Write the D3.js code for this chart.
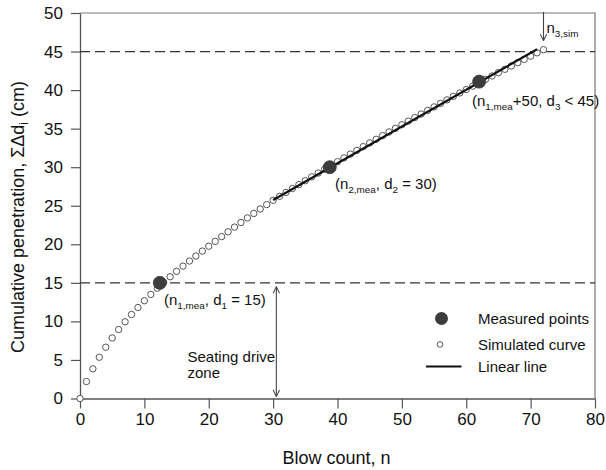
<!DOCTYPE html>
<html>
<head>
<meta charset="utf-8">
<script src="https://cdn.jsdelivr.net/npm/d3@7"></script>
<style>
  html, body { margin: 0; padding: 0; background: #fff; }
  svg { display: block; font-family: Arial, "Liberation Sans", sans-serif; }
</style>
</head>
<body>
<svg id="chart" width="606" height="470"></svg>
<script>
// Simulated penetration curve: one value per blow, starting at blow 0
const simulatedPen = [
  0, 2.2, 3.85, 5.35, 6.65, 7.85, 8.95, 9.95, 10.9, 11.8,
  12.68, 13.5, 14.3, 15.06, 15.79, 16.49, 17.17, 17.83, 18.48, 19.12,
  19.75, 20.38, 21.0, 21.62, 22.23, 22.83, 23.42, 24.0, 24.58, 25.15,
  25.71, 26.22, 26.73, 27.24, 27.74, 28.25, 28.75, 29.24, 29.74, 30.23,
  30.72, 31.21, 31.70, 32.18, 32.67, 33.15, 33.62, 34.10, 34.57, 35.04,
  35.51, 35.98, 36.44, 36.90, 37.36, 37.82, 38.27, 38.73, 39.18, 39.63,
  40.07, 40.51, 40.96, 41.40, 41.83, 42.27, 42.70, 43.13, 43.56, 43.98,
  44.40, 44.83, 45.24
];

// Measured points
const measuredN = [12.4, 38.8, 62.0];
const measuredPen = [15, 30, 41.1];

// Linear line through the 2nd and 3rd measured points
const linearN = [30, 71];
const linearPen = [25.75, 45.3];

// Reference depth levels (dashed)
const refLevels = [15, 45];

// Axis ticks
const xTicks = [0, 10, 20, 30, 40, 50, 60, 70, 80];
const yTicks = [0, 5, 10, 15, 20, 25, 30, 35, 40, 45, 50];

const svg = d3.select("#chart");
const plotL = 80, plotR = 595, plotT = 13, plotB = 398.5;

const x = d3.scaleLinear().domain([0, 80]).range([plotL, plotR]);
const y = d3.scaleLinear().domain([0, 50]).range([plotB, plotT]);

const axisColor = "#555";

// frame (top and right)
svg.append("path")
  .attr("d", `M${plotL},${plotT}H${plotR}V${plotB}`)
  .attr("fill", "none").attr("stroke", "#777").attr("stroke-width", 1.2);

// axes
const xAxis = svg.append("g").attr("transform", `translate(0,${plotB})`)
  .call(d3.axisBottom(x).tickValues(xTicks).tickSize(10).tickSizeOuter(0).tickPadding(4));
const yAxis = svg.append("g").attr("transform", `translate(${plotL},0)`)
  .call(d3.axisLeft(y).tickValues(yTicks).tickSize(9).tickSizeOuter(0).tickPadding(8));
[xAxis, yAxis].forEach(g => {
  g.select(".domain").attr("stroke", axisColor).attr("stroke-width", 1.3);
  g.selectAll(".tick line").attr("stroke", axisColor).attr("stroke-width", 1.2);
  g.selectAll(".tick text").attr("fill", "#111").attr("font-size", 17)
    .attr("font-family", 'Arial, "Liberation Sans", sans-serif');
});

// dashed reference levels
svg.selectAll(".ref").data(refLevels).enter().append("line")
  .attr("x1", plotL).attr("x2", plotR)
  .attr("y1", d => y(d)).attr("y2", d => y(d))
  .attr("stroke", "#333").attr("stroke-width", 1.3)
  .attr("stroke-dasharray", "10,5");

// arrow markers
const defs = svg.append("defs");
defs.append("marker").attr("id", "head").attr("viewBox", "0 0 10 10")
  .attr("refX", 9).attr("refY", 5).attr("markerWidth", 8).attr("markerHeight", 8)
  .attr("markerUnits", "userSpaceOnUse").attr("orient", "auto-start-reverse")
  .append("path").attr("d", "M1,1L9,5L1,9").attr("fill", "none")
  .attr("stroke", "#444").attr("stroke-width", 1.3);

// seating drive zone double arrow
svg.append("line")
  .attr("x1", x(30.5)).attr("x2", x(30.5))
  .attr("y1", y(15) + 4).attr("y2", y(0) - 2)
  .attr("stroke", "#444").attr("stroke-width", 1.1)
  .attr("marker-start", "url(#head)").attr("marker-end", "url(#head)");

// n3,sim arrow
svg.append("line")
  .attr("x1", x(72)).attr("x2", x(72))
  .attr("y1", 12).attr("y2", y(45) - 11)
  .attr("stroke", "#444").attr("stroke-width", 1.1)
  .attr("marker-end", "url(#head)");

// simulated curve (open circles)
svg.selectAll(".sim").data(simulatedPen).enter().append("circle")
  .attr("cx", (d, i) => x(i)).attr("cy", d => y(d)).attr("r", 3.2)
  .attr("fill", "#fff").attr("stroke", "#555").attr("stroke-width", 1);

// linear line
svg.append("line")
  .attr("x1", x(linearN[0])).attr("y1", y(linearPen[0]))
  .attr("x2", x(linearN[1])).attr("y2", y(linearPen[1]))
  .attr("stroke", "#111").attr("stroke-width", 2.2);

// measured points
svg.selectAll(".mea").data(measuredN).enter().append("circle")
  .attr("cx", d => x(d)).attr("cy", (d, i) => y(measuredPen[i])).attr("r", 6.5)
  .attr("fill", "#3d3d3d").attr("stroke", "#333").attr("stroke-width", 0.8);

// text with subscripts: parts are [text, isSub]
function richText(g, xPos, yPos, parts, size, extra) {
  const t = g.append("text").attr("x", xPos).attr("y", yPos)
    .attr("font-size", size).attr("fill", "#111");
  if (extra) extra(t);
  let prevSub = false;
  parts.forEach(([s, sub]) => {
    let dy = 0;
    if (sub && !prevSub) dy = 4;
    if (!sub && prevSub) dy = -4;
    t.append("tspan").text(s)
      .attr("font-size", sub ? size * 0.66 : size)
      .attr("dy", dy);
    prevSub = !!sub;
  });
  return t;
}

richText(svg, 164, 305, [["(n", 0], ["1,mea", 1], [", d", 0], ["1", 1], [" = 15)", 0]], 15);
richText(svg, 335, 189, [["(n", 0], ["2,mea", 1], [", d", 0], ["2", 1], [" = 30)", 0]], 15);
richText(svg, 472, 106, [["(n", 0], ["1,mea", 1], ["+50, d", 0], ["3", 1], [" < 45)", 0]], 15);
richText(svg, 546.5, 33, [["n", 0], ["3,sim", 1]], 15);

svg.append("text").attr("x", 187.5).attr("y", 362).attr("font-size", 15).attr("fill", "#111").text("Seating drive");
svg.append("text").attr("x", 187.5).attr("y", 378).attr("font-size", 15).attr("fill", "#111").text("zone");

// legend
const lg = svg.append("g");
lg.append("circle").attr("cx", 441.5).attr("cy", 318.5).attr("r", 6.5).attr("fill", "#3d3d3d");
lg.append("circle").attr("cx", 440).attr("cy", 344.5).attr("r", 2.8)
  .attr("fill", "#fff").attr("stroke", "#555").attr("stroke-width", 1);
lg.append("line").attr("x1", 426).attr("x2", 461.5).attr("y1", 366.5).attr("y2", 366.5)
  .attr("stroke", "#111").attr("stroke-width", 2.2);
[["Measured points", 323.5], ["Simulated curve", 349.5], ["Linear line", 371.5]].forEach(([s, yy]) => {
  lg.append("text").attr("x", 478).attr("y", yy).attr("font-size", 15).attr("fill", "#111").text(s);
});

// axis titles
svg.append("text").attr("x", 336.5).attr("y", 464).attr("text-anchor", "middle")
  .attr("font-size", 18).attr("fill", "#111").text("Blow count, n");

richText(svg, 0, 0, [["Cumulative penetration, ΣΔd", 0], ["i", 1], [" (cm)", 0]], 18,
  t => t.attr("text-anchor", "middle").attr("transform", "translate(24,217) rotate(-90)"));
</script>
</body>
</html>
